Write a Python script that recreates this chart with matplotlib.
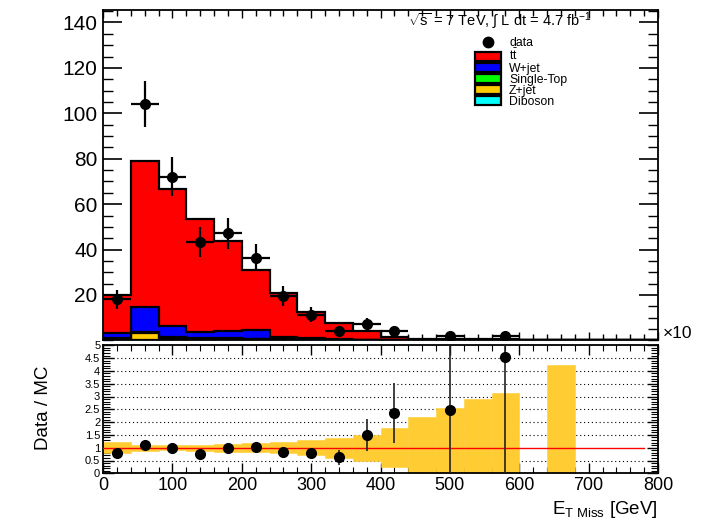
import numpy as np
import matplotlib
matplotlib.use('Agg')
import matplotlib.pyplot as plt
from matplotlib.lines import Line2D
from matplotlib.patches import Patch
from matplotlib.ticker import MultipleLocator, NullFormatter

plt.rcParams['font.family'] = ['Liberation Sans', 'DejaVu Sans']
plt.rcParams['mathtext.fontset'] = 'custom'
plt.rcParams['mathtext.rm'] = 'Liberation Sans'
plt.rcParams['mathtext.it'] = 'Liberation Sans:italic'

# ---- data ----
bin_edges = np.arange(0, 801, 40)

# MC stack components per 40 GeV bin (bottom -> top)
diboson = [0.1, 0.2, 0.1, 0.1, 0.1, 0.1, 0.05, 0.05, 0.02, 0.02, 0.01, 0, 0, 0, 0, 0, 0, 0, 0, 0]
zjet    = [0.4, 3.0, 0.3, 0.3, 0.3, 0.3, 0.2, 0.1, 0.1, 0.05, 0, 0, 0, 0, 0, 0, 0, 0, 0, 0]
stop    = [0.5, 0.3, 0.9, 0.5, 0.8, 0.4, 0.3, 0.2, 0.1, 0.05, 0.05, 0.02, 0.02, 0, 0.02, 0, 0, 0, 0, 0]
wjet    = [2.1, 11.2, 5.0, 2.6, 2.8, 3.7, 0.95, 0.55, 0.2, 0.15, 0.1, 0.05, 0.05, 0.05, 0, 0, 0, 0, 0, 0]
ttbar   = [16.9, 64.3, 60.4, 50.0, 39.8, 26.7, 19.5, 11.7, 7.1, 3.8, 1.44, 0.53, 0.7, 0.45, 0.4, 0, 0.2, 0, 0, 0]

# data points
data_x   = [20, 60, 100, 140, 180, 220, 260, 300, 340, 380, 420, 500, 580]
data_y   = [18.1, 104.0, 72.1, 43.5, 47.2, 36.4, 19.6, 11.4, 4.3, 7.1, 4.3, 1.9, 1.9]
data_err = [4.3, 10.2, 8.5, 6.6, 6.9, 6.0, 4.4, 3.4, 2.1, 2.7, 2.1, 1.4, 1.4]

# ratio panel
ratio_y   = [0.80, 1.09, 0.98, 0.77, 0.98, 1.02, 0.84, 0.80, 0.62, 1.51, 2.34, 2.48, 4.55]
ratio_err = [0.2, 0.12, 0.12, 0.13, 0.14, 0.16, 0.2, 0.2, 0.3, 0.62, 1.17, 2.6, 4.6]
band_err  = [0.22, 0.12, 0.10, 0.12, 0.15, 0.17, 0.22, 0.29, 0.39, 0.51, 0.76, 1.21, 1.56, 1.90, 2.12,
             np.nan, 3.23, np.nan, np.nan, np.nan]
ratio_ticks = ['0', '0.5', '1', '1.5', '2', '2.5', '3', '3.5', '4', '4.5', '5']

layers = [('Diboson', diboson, '#00ffff'),
          ('Z+jet', zjet, '#ffcc00'),
          ('Single-Top', stop, '#00ff00'),
          ('W+jet', wjet, '#0000ff'),
          (r'$\mathregular{t\bar{t}}$', ttbar, '#ff0000')]

fig = plt.figure(figsize=(7.02, 5.23), dpi=100)
W, H = 702.0, 523.0
ax = fig.add_axes([103 / W, 1 - 340.4 / H, 555 / W, 330.4 / H])
rax = fig.add_axes([103 / W, 1 - 473.3 / H, 555 / W, 128.0 / H])

# ---- top panel: stacked MC ----
base = np.zeros(len(bin_edges) - 1)
for name, vals, col in layers:
    top = base + np.array(vals)
    ax.stairs(top, bin_edges, baseline=base, fill=True, color=col, lw=0, zorder=2)
    ax.stairs(top, bin_edges, baseline=None, color='black', lw=1.6, zorder=3)
    base = top

ax.errorbar(data_x, data_y, yerr=data_err, xerr=20, fmt='o', color='black',
            markersize=7, elinewidth=1.6, capsize=0, zorder=5)

ax.set_xlim(0, 800)
ax.set_ylim(0, 145.5)
ax.yaxis.set_major_locator(MultipleLocator(20))
ax.yaxis.set_minor_locator(MultipleLocator(5))
ax.xaxis.set_major_locator(MultipleLocator(100))
ax.xaxis.set_minor_locator(MultipleLocator(20))
ax.xaxis.set_major_formatter(NullFormatter())
ax.tick_params(direction='in', top=True, right=True, which='both')
ax.tick_params(axis='y', which='major', length=14, width=1.2, labelsize=15, pad=4)
ax.tick_params(axis='y', which='minor', length=7, width=1.0)
ax.tick_params(axis='x', which='major', length=6, width=1.0)
ax.tick_params(axis='x', which='minor', length=4, width=1.0)
ax.set_yticks([20, 40, 60, 80, 100, 120, 140])
for sp in ax.spines.values():
    sp.set_linewidth(1.3)

# legend
handles = [Line2D([], [], marker='o', color='black', linestyle='none', markersize=7.5)]
labels = ['data']
for name, vals, col in layers[::-1]:
    handles.append(Patch(facecolor=col, edgecolor='black', linewidth=1.6))
    labels.append(name)
ax.legend(handles, labels, loc='upper left', bbox_to_anchor=(0.67, 0.918), frameon=False,
          fontsize=8.8, labelspacing=-0.08, handlelength=2.1, handleheight=0.8,
          handletextpad=0.7, borderpad=0, borderaxespad=0)

ax.text(0.716, 0.953, r'$\sqrt{\mathregular{s}}$ = 7 TeV, $\int$ L dt = 4.7 fb$^{\mathregular{-1}}$',
        transform=ax.transAxes, ha='center', va='baseline', fontsize=10.5, zorder=6)

# ---- ratio panel ----
centers = 0.5 * (bin_edges[:-1] + bin_edges[1:])
be = np.array(band_err)
ok = ~np.isnan(be)
rax.bar(centers[ok], 2 * be[ok], bottom=1 - be[ok], width=40, color='#ffcc33',
        edgecolor='#ffcc33', linewidth=0.4, zorder=2)
for lev in np.arange(0.5, 5.0, 0.5):
    if lev != 1.0:
        rax.plot([14, 780], [lev, lev], color='black', lw=0.8, ls=(0, (1, 2.5)), zorder=1)
rax.plot([0, 780], [1, 1], color='red', lw=1.0, zorder=3)
rax.errorbar(data_x, ratio_y, yerr=ratio_err, fmt='o', color='black', ecolor='#222222',
             markersize=7, elinewidth=1.2, capsize=0, zorder=5)

rax.set_xlim(0, 800)
rax.set_ylim(0, 5)
rax.xaxis.set_major_locator(MultipleLocator(100))
rax.xaxis.set_minor_locator(MultipleLocator(20))
rax.yaxis.set_minor_locator(MultipleLocator(0.1))
rax.set_yticks(np.arange(0, 5.01, 0.5))
rax.set_yticklabels(ratio_ticks)
rax.tick_params(direction='in', top=True, right=True, which='both')
rax.tick_params(axis='y', which='major', length=8, width=1.0, labelsize=8, pad=2)
rax.tick_params(axis='y', which='minor', length=5, width=0.8)
rax.tick_params(axis='x', which='major', length=7, width=1.0, labelsize=13, pad=3)
rax.tick_params(axis='x', which='minor', length=4, width=0.8)
for sp in rax.spines.values():
    sp.set_linewidth(1.3)

fig.text(44 / W, 1 - 408 / H, 'Data / MC', rotation=90, ha='center', va='center', fontsize=13.5)
fig.text(658 / W, 1 - 510 / H, r'E$_{\mathregular{T\ Miss}}$ [GeV]', ha='right', va='center', fontsize=13.5)
fig.text(663 / W, 1 - 333 / H, '\u00d710', ha='left', va='center', fontsize=12.5)

fig.savefig('out.png', dpi=100)
plt.close(fig)
